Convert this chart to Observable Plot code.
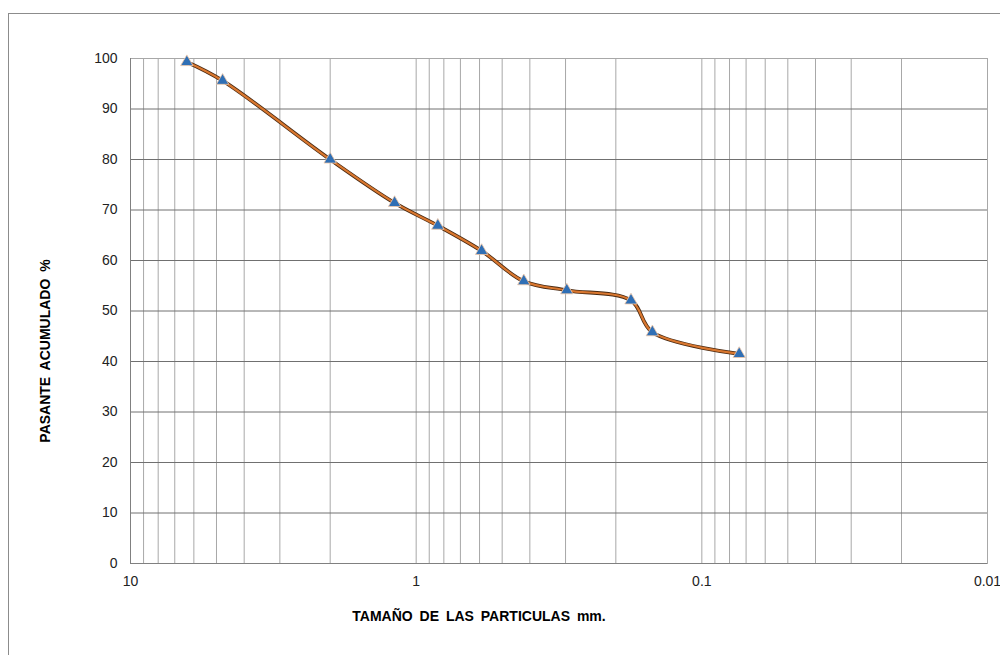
<!DOCTYPE html>
<html><head><meta charset="utf-8">
<script src="https://cdn.jsdelivr.net/npm/d3@7"></script>
<script src="https://cdn.jsdelivr.net/npm/@observablehq/plot@0.6"></script>
<style>
html,body{margin:0;padding:0;background:#fff;}
#chart{width:1000px;height:655px;overflow:hidden;}
.ttl{word-spacing:3px;}
</style></head>
<body><div id="chart"></div>
<script>
// Sieve sizes (mm) and cumulative passing (%)
const sizes = [6.35, 4.76, 2.0, 1.19, 0.84, 0.59, 0.42, 0.297, 0.177, 0.149, 0.074];
const passing = [99.3, 95.6, 80.0, 71.4, 66.9, 61.9, 55.9, 54.1, 52.1, 45.8, 41.5];
const xTickLabels = [10, 1, 0.1, 0.01];
const yTicks = [0, 10, 20, 30, 40, 50, 60, 70, 80, 90, 100];
const xTitle = "TAMAÑO DE LAS PARTICULAS mm.";
const yTitle = "PASANTE ACUMULADO %";

const data = sizes.map((d, i) => ({size: d, pass: passing[i]}));
const xGrid = d3.scaleLog().domain([0.01, 10]).ticks();

const chart = Plot.plot({
  width: 1000, height: 655,
  marginLeft: 130, marginRight: 13, marginTop: 58, marginBottom: 92,
  style: {fontFamily: "'Liberation Sans', Arial, sans-serif", fontSize: "14px", color: "#222", background: "#fff"},
  x: {type: "log", domain: [10, 0.01]},
  y: {domain: [0, 100]},
  marks: [
    Plot.ruleX(xGrid, {stroke: "#a8a8a8", strokeWidth: 1, strokeOpacity: 1}),
    Plot.ruleY(yTicks, {stroke: "#707070", strokeWidth: 1, strokeOpacity: 1}),
    Plot.frame({stroke: "#a8a8a8"}),
    Plot.ruleY([0], {stroke: "#808080"}),
    Plot.ruleX([10], {stroke: "#808080"}),
    Plot.axisX({ticks: xTickLabels, tickFormat: d => String(d), tickSize: 0, tickPadding: 13, label: null, fontSize: 14}),
    Plot.axisY({ticks: yTicks, tickSize: 0, tickPadding: 13, label: null, fontSize: 14}),
    Plot.line(data, {x: "size", y: "pass", curve: "catmull-rom", stroke: "#4a2a12", strokeWidth: 3.8}),
    Plot.line(data, {x: "size", y: "pass", curve: "catmull-rom", stroke: "#d9772f", strokeWidth: 2.2}),
    Plot.dot(data, {x: "size", y: "pass", symbol: "triangle", r: 4.6, fill: "#2f6fb5", stroke: "#f3c9a8", strokeWidth: 0.8}),
    Plot.text([xTitle], {frameAnchor: "bottom", textAnchor: "middle", dx: -80, dy: 57, fontWeight: "bold", fontSize: 14, fill: "#000", className: "ttl"}),
    Plot.text([yTitle], {frameAnchor: "left", textAnchor: "middle", rotate: -90, dx: -85, dy: 40, fontWeight: "bold", fontSize: 14, fill: "#000", className: "ttl"})
  ]
});
document.getElementById("chart").appendChild(chart);
d3.select(chart).append("rect")
  .attr("x", 8.5).attr("y", 13.5).attr("width", 1000).attr("height", 700)
  .attr("fill", "none").attr("stroke", "#8c8c8c");
</script>
</body></html>
